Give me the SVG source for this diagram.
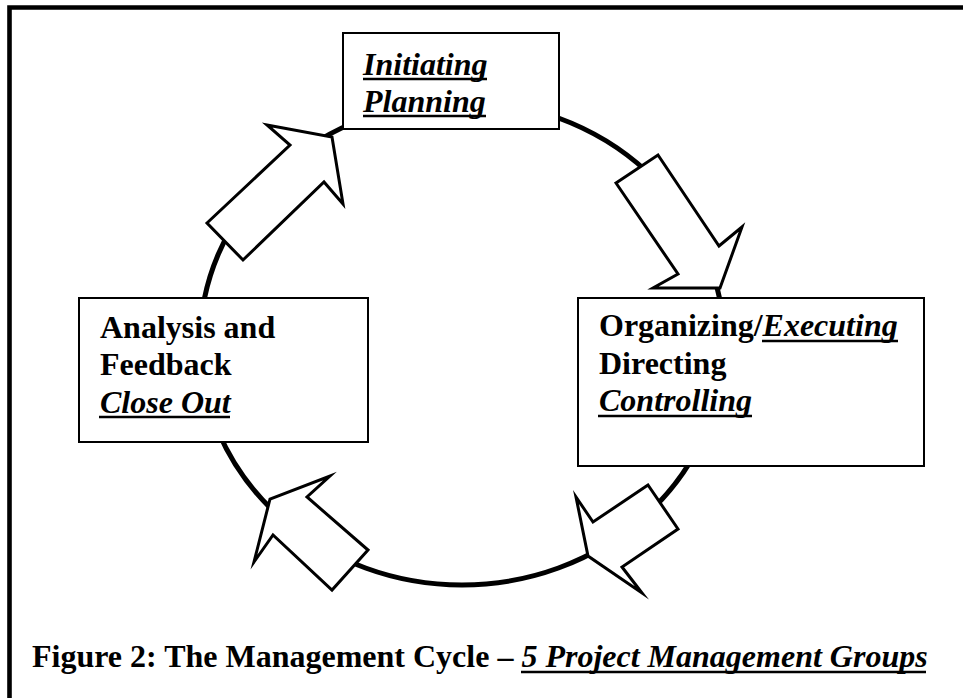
<svg xmlns="http://www.w3.org/2000/svg" width="963" height="698" viewBox="0 0 963 698">
  <style>
    .frame { fill: none; stroke: #000; stroke-width: 4.6; }
    .cycle { fill: none; stroke: #000; stroke-width: 5; }
    .arrow { fill: #fff; stroke: #000; stroke-width: 3; stroke-linejoin: miter; stroke-miterlimit: 10; }
    .box { fill: #fff; stroke: #000; stroke-width: 2; }
    text { font-family: "Liberation Serif", "Times New Roman", serif; font-size: 32px; font-weight: bold; fill: #000; }
    .em { font-style: italic; }
    .ul { stroke: #000; stroke-width: 2.6; }
  </style>

  <rect width="963" height="698" fill="#fff"/>
  <path class="frame" d="M9.5,698 V7.5 H963"/>

  <!-- connectors: the cycle ring and the four block arrows -->
  <g id="connectors">
    <ellipse class="cycle" cx="462" cy="343" rx="262" ry="242"/>
    <polygon id="arrow-close-to-init" class="arrow" points="207,223 290,145 267,125 332,137 343,204 324,182 243,260"/>
    <polygon id="arrow-init-to-exec" class="arrow" points="616,183 658,155 719,246 742,227 720,288 653,288 678,274"/>
    <polygon id="arrow-exec-to-ctrl" class="arrow" points="648,485 593,522 576,497 588,556 642,593 622,567 678,529"/>
    <polygon id="arrow-ctrl-to-close" class="arrow" points="368,550 332,590 273,535 254,562 270,499 330,476 307,497"/>
  </g>

  <g id="node-initiating">
    <rect class="box" x="343" y="33" width="216" height="96"/>
    <text class="em" x="363" y="75">Initiating</text>
    <line class="ul" x1="363" y1="79" x2="487" y2="79"/>
    <text class="em" x="363" y="112">Planning</text>
    <line class="ul" x1="363" y1="116" x2="486" y2="116"/>
  </g>

  <g id="node-analysis">
    <rect class="box" x="79" y="298" width="289" height="144"/>
    <text x="100" y="338">Analysis and</text>
    <text x="100" y="375">Feedback</text>
    <text class="em" x="100" y="413">Close Out</text>
    <line class="ul" x1="99" y1="417" x2="230" y2="417"/>
  </g>

  <g id="node-organizing">
    <rect class="box" x="578" y="298" width="346" height="168"/>
    <text x="599" y="336">Organizing/<tspan class="em">Executing</tspan></text>
    <line class="ul" x1="762" y1="341" x2="898" y2="341"/>
    <text x="599" y="374">Directing</text>
    <text class="em" x="599" y="411">Controlling</text>
    <line class="ul" x1="598" y1="416" x2="752" y2="416"/>
  </g>

  <g id="caption">
    <text x="32" y="667">Figure 2: The Management Cycle – <tspan class="em">5 Project Management Groups</tspan></text>
    <line class="ul" x1="521" y1="672" x2="926" y2="672"/>
  </g>
</svg>
